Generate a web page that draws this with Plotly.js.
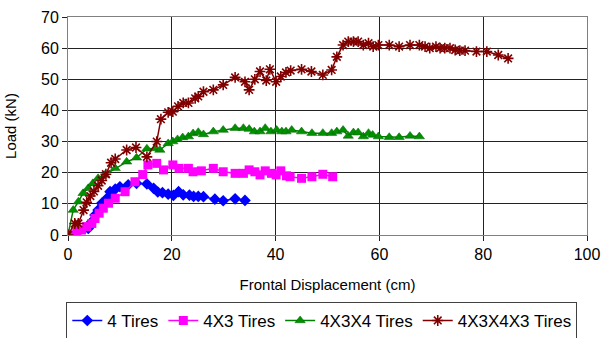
<!DOCTYPE html>
<html>
<head>
<meta charset="utf-8">
<script src="https://cdn.plot.ly/plotly-3.0.1.min.js"></script>
<style>html,body{margin:0;padding:0;background:#fff;}#chart{width:602px;height:338px;}</style>
</head>
<body>
<div id="chart"></div>
<script>
const seriesNames = ["4 Tires", "4X3 Tires", "4X3X4 Tires", "4X3X4X3 Tires"];

const tires4X = [0, 1.5, 3.9, 4.6, 5.2, 5.8, 6.5, 7.5, 8.1, 9.1, 10.0, 11.6, 13.2, 15.2, 16.5, 17.3, 18.2, 19.3, 20.3, 21.3, 22.2, 23.4, 24.2, 25.1, 26.1, 28.3, 29.9, 32.2, 34.1];
const tires4Y = [0, 0.5, 2.1, 4.3, 6.4, 8.0, 10.2, 11.8, 13.9, 14.7, 15.5, 16.1, 16.6, 16.4, 15.0, 13.8, 13.6, 13.1, 12.7, 13.9, 12.9, 12.8, 12.4, 12.4, 12.3, 11.5, 11.0, 11.6, 11.1];

const tires43X = [0, 1.7, 2.6, 3.6, 4.6, 5.2, 6.0, 6.8, 7.8, 9.1, 11.0, 12.9, 14.4, 15.4, 17.1, 18.4, 20.2, 21.4, 23.2, 24.1, 25.7, 28.0, 29.9, 32.2, 33.8, 34.9, 36.0, 37.0, 38.0, 39.2, 40.1, 41.0, 42.1, 42.8, 45.0, 47.0, 49.1, 51.0];
const tires43Y = [0, 1.1, 1.6, 2.7, 3.7, 5.3, 7.0, 8.6, 10.2, 11.8, 13.9, 17.1, 19.4, 22.5, 23.0, 20.9, 22.5, 21.4, 21.4, 20.3, 20.6, 21.4, 20.3, 19.8, 19.8, 20.9, 20.3, 19.3, 20.6, 19.8, 19.3, 20.6, 19.0, 18.7, 18.2, 18.7, 19.5, 18.7];

const tires434X = [0, 1.0, 2.0, 2.9, 3.9, 4.8, 5.8, 7.1, 9.1, 11.3, 13.2, 15.2, 16.8, 17.7, 19.3, 20.2, 21.1, 22.1, 23.2, 24.1, 25.1, 26.1, 28.0, 29.9, 32.2, 33.8, 34.9, 35.9, 37.0, 38.0, 39.1, 40.2, 41.2, 42.0, 43.1, 45.0, 47.0, 49.1, 50.8, 51.8, 53.0, 54.0, 55.0, 55.9, 56.9, 57.9, 58.7, 59.8, 61.9, 63.8, 65.9, 67.7];
const tires434Y = [0, 8.0, 10.7, 13.4, 15.0, 16.6, 18.2, 19.3, 21.4, 23.5, 24.8, 27.7, 27.8, 27.3, 29.4, 30.0, 30.7, 31.3, 31.6, 32.6, 33.0, 32.3, 33.2, 33.7, 34.3, 34.3, 34.0, 33.2, 33.2, 34.3, 33.2, 33.7, 33.2, 33.2, 33.7, 33.2, 32.7, 32.7, 32.7, 33.2, 33.7, 31.8, 32.9, 32.9, 31.6, 32.7, 32.1, 31.6, 31.4, 31.4, 31.8, 31.6];

const tires4343X = [0, 1.3, 2.0, 3.0, 3.6, 4.3, 5.0, 5.8, 6.5, 7.3, 8.3, 9.1, 11.3, 13.1, 15.2, 17.1, 17.9, 19.3, 20.2, 21.2, 22.2, 23.2, 24.5, 25.1, 26.1, 28.0, 29.9, 32.2, 34.1, 34.9, 36.0, 37.0, 38.2, 38.9, 40.1, 41.0, 42.0, 42.9, 45.0, 46.9, 49.1, 50.8, 51.8, 53.0, 54.0, 55.0, 55.9, 56.9, 57.9, 58.8, 59.8, 61.9, 63.8, 65.9, 67.7, 68.8, 69.7, 70.9, 71.7, 72.6, 73.6, 74.6, 75.5, 76.5, 78.7, 80.7, 82.9, 84.8];
const tires4343Y = [0, 3.7, 3.7, 8.0, 10.5, 12.5, 14.0, 15.8, 17.5, 19.5, 23.2, 24.4, 27.3, 28.1, 25.1, 30.0, 37.2, 39.4, 39.6, 41.3, 42.4, 42.4, 43.9, 44.5, 46.0, 46.6, 48.2, 50.6, 49.2, 46.6, 50.0, 52.5, 49.6, 53.2, 49.2, 50.9, 52.2, 52.8, 53.2, 52.5, 51.4, 53.0, 57.2, 61.0, 62.1, 62.1, 62.1, 61.0, 61.6, 60.5, 61.0, 61.0, 60.5, 61.0, 61.0, 60.5, 60.0, 60.5, 60.0, 60.0, 60.0, 59.4, 59.2, 59.2, 58.9, 58.9, 57.8, 56.7];

const xTicks = [0, 20, 40, 60, 80, 100];
const yTicks = [0, 10, 20, 30, 40, 50, 60, 70];

const font = "Liberation Sans, Arial, sans-serif";

const traces = [
  {x: tires4X, y: tires4Y, name: seriesNames[0], mode: "lines+markers",
   line: {color: "#0000FF", width: 1.5},
   marker: {symbol: "diamond", size: 9, color: "#0000FF"}},
  {x: tires43X, y: tires43Y, name: seriesNames[1], mode: "lines+markers",
   line: {color: "#FF00FF", width: 1.5},
   marker: {symbol: "square", size: 9, color: "#FF00FF"}},
  {x: tires434X, y: tires434Y, name: seriesNames[2], mode: "lines+markers",
   line: {color: "#008000", width: 1.5},
   marker: {symbol: "triangle-up", size: 9, color: "#009000", line: {color: "#006000", width: 0.5}}},
  {x: tires4343X, y: tires4343Y, name: seriesNames[3], mode: "lines+markers",
   line: {color: "#800000", width: 1.5},
   marker: {symbol: "asterisk-open", size: 9, color: "#800000", line: {color: "#800000", width: 1.6}}}
];

const layout = {
  width: 602, height: 338,
  margin: {l: 68, r: 15, t: 17, b: 103, autoexpand: false},
  paper_bgcolor: "#fff", plot_bgcolor: "#fff",
  font: {family: font, size: 16, color: "#000"},
  showlegend: true,
  xaxis: {
    range: [0, 100], tickvals: xTicks, ticktext: xTicks.map(String),
    showgrid: true, gridcolor: "#222", gridwidth: 1,
    zeroline: false, showline: true, linecolor: "#808080", linewidth: 1, mirror: true,
    ticks: "outside", ticklen: 5, tickcolor: "#222",
    tickfont: {family: font, size: 16},
    title: {text: "Frontal Displacement (cm)", font: {family: font, size: 15}, standoff: 17}
  },
  yaxis: {
    range: [0, 70], tickvals: yTicks, ticktext: yTicks.map(String),
    showgrid: true, gridcolor: "#222", gridwidth: 1,
    zeroline: false, showline: true, linecolor: "#808080", linewidth: 1, mirror: true,
    ticks: "outside", ticklen: 5, tickcolor: "#222",
    tickfont: {family: font, size: 16},
    title: {text: "Load (kN)", font: {family: font, size: 15}, standoff: 20}
  },
  legend: {
    orientation: "h", x: 0.489, xanchor: "center", y: -0.307, yanchor: "top",
    bordercolor: "#404040", borderwidth: 1, bgcolor: "#fff",
    font: {family: font, size: 17}
  }
};

Plotly.newPlot("chart", traces, layout, {displayModeBar: false, staticPlot: true});
</script>
</body>
</html>
